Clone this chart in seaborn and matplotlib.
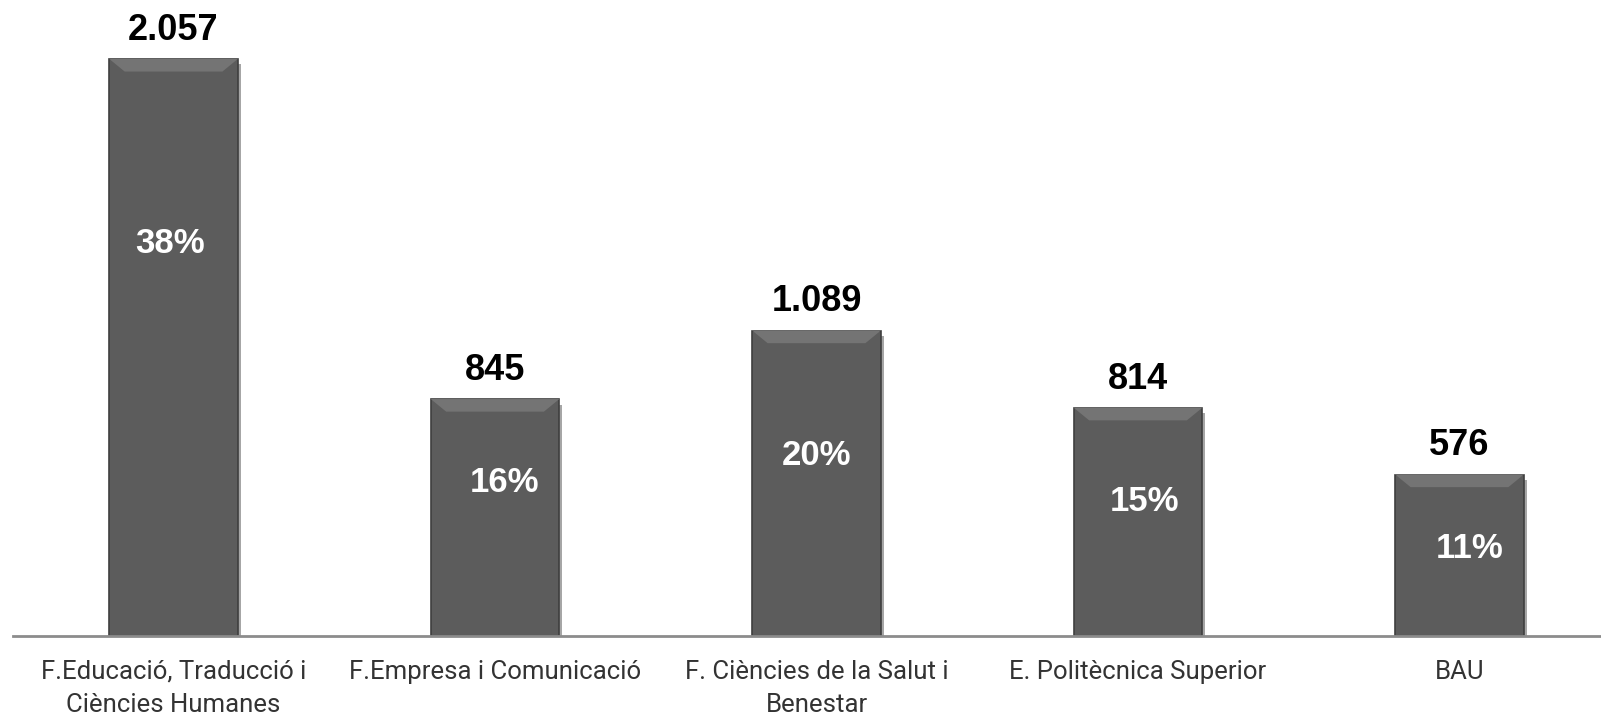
import matplotlib
matplotlib.use("Agg")
import matplotlib.pyplot as plt
import matplotlib.patheffects as pe
import pandas as pd
import seaborn as sns

categories = [
    "F.Educació, Traducció i\nCiències Humanes",
    "F.Empresa i Comunicació",
    "F. Ciències de la Salut i\nBenestar",
    "E. Politècnica Superior",
    "BAU",
]
students = [2057, 845, 1089, 814, 576]
shares = ["38%", "16%", "20%", "15%", "11%"]

# where the % label sits inside each bar (fraction of bar height) and x nudge
share_pos = [0.68, 0.65, 0.59, 0.59, 0.54]
share_dx = [-0.01, 0.03, 0.0, 0.02, 0.03]

df = pd.DataFrame({"cat": categories, "n": students})

sns.set_style("white")
plt.rcParams["font.family"] = ["Liberation Sans", "DejaVu Sans"]

fig = plt.figure(figsize=(16.01, 7.18), dpi=100)
ax = fig.add_axes([0.008, 0.114, 1.0, 0.886])

sns.barplot(data=df, x="cat", y="n", color="#5c5c5c", width=0.4,
            saturation=1, ax=ax)

shadow = [pe.SimplePatchShadow(offset=(2, -4), shadow_rgbFace="#000000", alpha=0.35),
          pe.Normal()]
for p in ax.patches:
    p.set_edgecolor("#3f3f3f")
    p.set_linewidth(1.2)
    p.set_path_effects(shadow)
    # lighter bevel strip at the top of each bar
    x0, w, h = p.get_x(), p.get_width(), p.get_height()
    ax.fill([x0, x0 + w, x0 + w * 0.88, x0 + w * 0.12],
            [h, h, h - 45, h - 45], color="#747474", zorder=3, lw=0)

labels = [f"{v:,}".replace(",", ".") for v in students]
ax.bar_label(ax.containers[0], labels=labels, padding=8, fontsize=26,
             fontweight="bold", color="black")

for i, (v, s) in enumerate(zip(students, shares)):
    ax.text(i + share_dx[i], v * share_pos[i], s, ha="center", va="center",
            color="white", fontsize=25, fontweight="bold", zorder=4)

ax.set_xlim(-0.5, 4.48)
ax.set_ylim(0, 2267)
ax.set_xlabel("")
ax.set_ylabel("")
ax.set_yticks([])
for side in ["top", "right", "left"]:
    ax.spines[side].set_visible(False)
ax.spines["bottom"].set_color("#8c8c8c")
ax.spines["bottom"].set_linewidth(2)
ax.tick_params(axis="x", length=0, pad=17)
for t in ax.get_xticklabels():
    t.set_fontfamily(["Roboto", "DejaVu Sans"])
    t.set_fontsize(18.5)
    t.set_color("#333333")
    t.set_linespacing(1.5)

fig.savefig("out.png", dpi=100)
